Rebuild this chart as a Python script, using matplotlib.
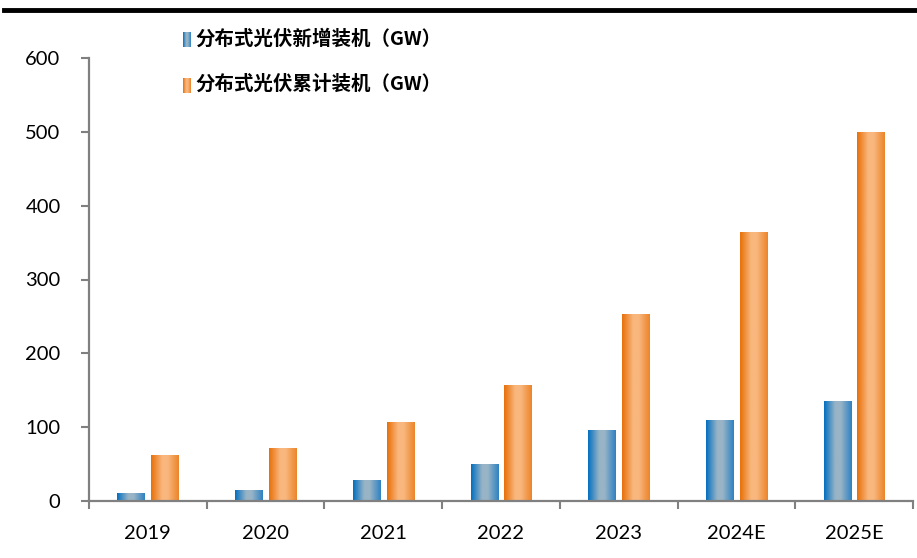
import numpy as np
import matplotlib
matplotlib.use("Agg")
import matplotlib.pyplot as plt
from matplotlib.colors import LinearSegmentedColormap

plt.rcParams['font.family'] = ['Noto Sans CJK SC', 'DejaVu Sans']

years = ["2019", "2020", "2021", "2022", "2023", "2024E", "2025E"]
new_gw = [11, 15, 29, 50, 96, 110, 135]          # 分布式光伏新增装机
cum_gw = [62, 72, 107, 157, 253, 364, 500]       # 分布式光伏累计装机
series_names = ["分布式光伏新增装机（GW）", "分布式光伏累计装机（GW）"]

blue_cm = LinearSegmentedColormap.from_list(
    "b", [(0, "#0570c0"), (0.4, "#98b4c6"), (0.6, "#98b4c6"), (1, "#2f82c2")])
orange_cm = LinearSegmentedColormap.from_list(
    "o", [(0, "#e8700a"), (0.4, "#f9b77e"), (0.6, "#f9b77e"), (1, "#ec852a")])
grad = np.linspace(0, 1, 64).reshape(1, -1)

fig = plt.figure(figsize=(9.17, 5.58), dpi=100)
ax = fig.add_axes([89 / 917, 57 / 558, 824 / 917, 443 / 558])

x = np.arange(len(years))
w, off = 0.23, 0.143
for vals, dx, cm in [(new_gw, -off, blue_cm), (cum_gw, off, orange_cm)]:
    bars = ax.bar(x + dx, vals, width=w, color="none", edgecolor="none", zorder=2)
    for b in bars:
        x0, y0 = b.get_x(), b.get_y()
        im = ax.imshow(grad, cmap=cm, aspect="auto", interpolation="bilinear",
                       extent=[x0, x0 + b.get_width(), y0, y0 + b.get_height()], zorder=2)
        im.set_clip_path(b)

tick_font = dict(family="Lato", size=14.5)
ax.set_xlim(-0.5, len(years) - 0.5)
ax.set_ylim(0, 600)
ax.set_yticks(range(0, 601, 100))
ax.set_yticklabels([str(v) for v in range(0, 601, 100)], fontdict=tick_font)
ax.set_xticks(np.arange(-0.5, len(years), 1.0))
ax.set_xticklabels([])
ax.set_xticks(x, minor=True)
ax.set_xticklabels(years, minor=True, fontdict=tick_font)
ax.tick_params(axis="x", which="minor", length=0, pad=17)
ax.tick_params(axis="x", which="major", length=5.5, width=1.5, color="#808080")
ax.tick_params(axis="y", length=5.5, width=1.5, color="#808080", pad=15)
for s in ["top", "right"]:
    ax.spines[s].set_visible(False)
for s in ["left", "bottom"]:
    ax.spines[s].set_color("#808080")
    ax.spines[s].set_linewidth(1.6)

# legend drawn in figure pixels
for i, (name, cm) in enumerate(zip(series_names, [blue_cm, orange_cm])):
    ytop = 32 + i * 46
    lax = fig.add_axes([183 / 917, 1 - (ytop + 15) / 558, 7 / 917, 15 / 558])
    lax.imshow(grad, cmap=cm, aspect="auto", interpolation="bilinear")
    lax.axis("off")
    fig.text(195 / 917, 1 - (ytop + 6.5) / 558, name, fontsize=14, fontweight="bold",
             va="center", ha="left", color="black")

# top rule line
fig.add_artist(plt.Line2D([4 / 917, 1], [1 - 10 / 558, 1 - 10 / 558], color="black", lw=3.5))

fig.savefig("out.png", dpi=100)
